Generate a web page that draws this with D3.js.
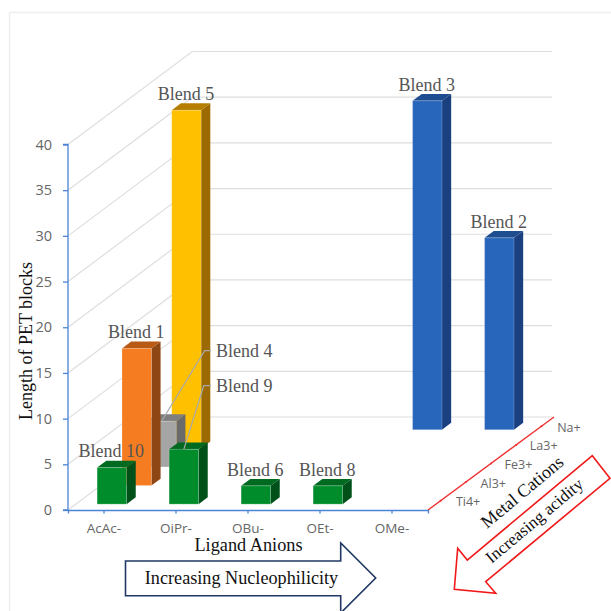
<!DOCTYPE html>
<html>
<head>
<meta charset="utf-8">
<script src="https://cdn.jsdelivr.net/npm/d3@7"></script>
<style>
  html, body { margin: 0; padding: 0; background: #fff; }
  svg { display: block; }
</style>
</head>
<body>
<svg id="chart" width="611" height="611"></svg>
<script>
// Ligand anions run along the front, metal cations run into the depth of the box.
const anions = ["AcAc-", "OiPr-", "OBu-", "OEt-", "OMe-"];
const cations = ["Ti4+", "Al3+", "Fe3+", "La3+", "Na+"];
const valueTicks = [0, 5, 10, 15, 20, 25, 30, 35, 40];

const blendNames = ["Blend 5", "Blend 4", "Blend 1", "Blend 10", "Blend 9", "Blend 6", "Blend 8", "Blend 3", "Blend 2"];
const blendAnions = ["AcAc-", "AcAc-", "AcAc-", "AcAc-", "OiPr-", "OBu-", "OEt-", "OEt-", "OMe-"];
const blendCations = ["La3+", "Fe3+", "Al3+", "Ti4+", "Ti4+", "Ti4+", "Ti4+", "Na+", "Na+"];
const blendLengths = [37, 5, 15, 4, 6, 2, 2, 36, 21];

// Front, top and side shades for each metal cation row.
const rowFront = ["#008C2B", "#F67C21", "#A5A5A5", "#FFC000", "#2866BC"];
const rowTop = ["#006A20", "#B85A16", "#7F7F7F", "#B57E00", "#1F4E90"];
const rowSide = ["#00501A", "#8E4614", "#6A6A6A", "#9C6A00", "#1A4080"];

// Projection of the box: front plane plus an oblique depth vector.
const plot = { left: 68, right: 428, floor: 510, top: 144.5, depthX: 124.3, depthY: -93, axisDepthX: 126, backRight: 552 };
const barWidth = 29.4;
const barDepth = 0.37;

const x = d3.scaleBand().domain(anions).range([plot.left, plot.right]);
const y = d3.scaleLinear().domain([0, 40]).range([plot.floor, plot.top]);
const depth = d3.scaleBand().domain(cations).range([0, 1]);

const svg = d3.select("#chart");
const serif = "'Liberation Serif', serif";
const sans = "'Open Sans', sans-serif";
const gridColor = "#DEDEDE";
const labelColor = "#555555";

// Outer chart frame, open on the right and bottom.
svg.append("path")
  .attr("d", "M9.5,611V12.5H611")
  .attr("fill", "none").attr("stroke", "#EEEEEE").attr("stroke-width", 1.5);

// Side wall and back wall gridlines.
const grid = svg.append("g").attr("fill", "none").attr("stroke", gridColor);
grid.selectAll("path").data(valueTicks).join("path")
  .attr("stroke-width", 1.2)
  .attr("d", v => {
    const p = d3.path();
    p.moveTo(plot.left, y(v));
    p.lineTo(plot.left + plot.depthX, y(v) + plot.depthY);
    p.lineTo(plot.backRight, y(v) + plot.depthY);
    return p.toString();
  });

// Axes.
const yAxis = svg.append("g")
  .attr("transform", `translate(${plot.left},0)`)
  .call(d3.axisLeft(y).tickValues(valueTicks).tickSize(5).tickPadding(11));
const xAxis = svg.append("g")
  .attr("transform", `translate(0,${plot.floor})`)
  .call(d3.axisBottom(x).tickSize(3.5).tickPadding(10));
[yAxis, xAxis].forEach(g => {
  g.selectAll("path, line").attr("stroke", "#4A84D6").attr("stroke-width", 1.3);
  g.selectAll("text").attr("fill", "#666666").attr("font-family", sans);
});
yAxis.select(".domain").attr("d", `M${-5},${y(40)}H0V${y(0)}H${-5}`);
yAxis.selectAll("text").attr("font-size", 14.5);
xAxis.selectAll("text").attr("font-size", 13.5);

// Depth axis for the metal cations.
const depthAxis = svg.append("g").attr("stroke", "#F03030").attr("fill", "none");
depthAxis.append("line")
  .attr("x1", plot.right).attr("y1", plot.floor)
  .attr("x2", plot.right + plot.axisDepthX).attr("y2", plot.floor + plot.depthY)
  .attr("stroke-width", 1.4);
const rowMid = c => depth(c) + depth.bandwidth() / 2;
depthAxis.selectAll("circle").data(cations).join("circle")
  .attr("cx", c => plot.right + plot.axisDepthX * rowMid(c))
  .attr("cy", c => plot.floor + plot.depthY * rowMid(c))
  .attr("r", 1).attr("fill", "#F03030").attr("stroke", "none");
svg.append("g").selectAll("text").data(cations).join("text")
  .attr("x", c => plot.right + plot.axisDepthX * rowMid(c) + 27.5)
  .attr("y", c => plot.floor + plot.depthY * rowMid(c) + 5.5)
  .attr("text-anchor", "middle")
  .attr("font-family", sans).attr("font-size", 12.5).attr("fill", "#666666")
  .text(c => c);

// Blend bars, nearest row painted last.
const blends = blendNames.map((name, i) => {
  const row = cations.indexOf(blendCations[i]);
  const t = rowMid(blendCations[i]);
  const boxDx = plot.depthX * depth.bandwidth() * barDepth;
  const boxDy = plot.depthY * depth.bandwidth() * barDepth;
  const left = x(blendAnions[i]) + x.bandwidth() / 2 + plot.depthX * t - boxDx / 2 - barWidth / 2;
  const shift = plot.depthY * t - boxDy / 2;
  return {
    name, row, value: blendLengths[i], boxDx, boxDy, left,
    right: left + barWidth,
    base: y(0) + shift,
    head: y(blendLengths[i]) + shift
  };
}).sort((a, b) => b.row - a.row);

const poly = pts => pts.map(p => p.join(",")).join(" ");
const bars = svg.append("g").selectAll("g").data(blends).join("g");
bars.append("polygon").attr("fill", d => rowSide[d.row])
  .attr("points", d => poly([[d.right, d.base], [d.right + d.boxDx, d.base + d.boxDy], [d.right + d.boxDx, d.head + d.boxDy], [d.right, d.head]]));
bars.append("polygon").attr("fill", d => rowTop[d.row])
  .attr("points", d => poly([[d.left, d.head], [d.right, d.head], [d.right + d.boxDx, d.head + d.boxDy], [d.left + d.boxDx, d.head + d.boxDy]]));
bars.append("rect").attr("fill", d => rowFront[d.row])
  .attr("stroke", "#fff").attr("stroke-opacity", 0.2).attr("stroke-width", 1)
  .attr("x", d => d.left).attr("y", d => d.head)
  .attr("width", barWidth).attr("height", d => d.base - d.head);

// Blend labels sit over their bars, except the two that need leader lines.
const leaderNames = ["Blend 4", "Blend 9"];
const leaderLabelX = [216, 216];
const leaderLabelY = [357.3, 392.3];
const leaderElbowX = [204.7, 203.7];
const byName = new Map(blends.map(d => [d.name, d]));

svg.append("g").selectAll("text").data(blends.filter(d => !leaderNames.includes(d.name))).join("text")
  .attr("x", d => d.left + barWidth / 2 - 0.5)
  .attr("y", d => d.head + d.boxDy - 3.3)
  .attr("text-anchor", "middle")
  .attr("font-family", serif).attr("font-size", 18).attr("fill", labelColor)
  .text(d => d.name);

const leaders = svg.append("g").selectAll("g").data(leaderNames).join("g");
leaders.append("polyline")
  .attr("fill", "none").attr("stroke", "#A9A9A9").attr("stroke-width", 1.2)
  .attr("points", (n, i) => {
    const b = byName.get(n);
    const elbowY = leaderLabelY[i] - 6.6;
    return poly([[b.left + barWidth / 2, b.head], [leaderElbowX[i], elbowY], [leaderLabelX[i] - 5, elbowY]]);
  });
leaders.append("text")
  .attr("x", (n, i) => leaderLabelX[i]).attr("y", (n, i) => leaderLabelY[i])
  .attr("font-family", serif).attr("font-size", 18).attr("fill", labelColor)
  .text(n => n);

// Axis titles.
svg.append("text")
  .attr("transform", "translate(32,341) rotate(-90)")
  .attr("text-anchor", "middle")
  .attr("font-family", serif).attr("font-size", 18).attr("fill", "#111")
  .text("Length of PET blocks");
svg.append("text")
  .attr("x", 248.5).attr("y", 551)
  .attr("text-anchor", "middle")
  .attr("font-family", serif).attr("font-size", 18.3).attr("fill", "#111")
  .text("Ligand Anions");
svg.append("text")
  .attr("transform", "translate(526,496.5) rotate(-40)")
  .attr("text-anchor", "middle")
  .attr("font-family", serif).attr("font-size", 18).attr("fill", "#111")
  .text("Metal Cations");

// Trend arrows below and beside the plot.
const blueArrow = [[125.5, 561], [340.7, 561], [340.7, 543], [375.7, 578], [340.7, 613], [340.7, 595.7], [125.5, 595.7]];
const redArrow = [[592.3, 455.7], [610, 478.3], [485.7, 581.7], [495.7, 593.3], [454.3, 589.3], [457.7, 548.3], [467.3, 560]];
svg.append("polygon").attr("points", poly(blueArrow))
  .attr("fill", "#fff").attr("stroke", "#1F3864").attr("stroke-width", 1.6);
svg.append("polygon").attr("points", poly(redArrow))
  .attr("fill", "#fff").attr("stroke", "#F01818").attr("stroke-width", 1.6);
svg.append("text")
  .attr("x", 241.5).attr("y", 584)
  .attr("text-anchor", "middle")
  .attr("font-family", serif).attr("font-size", 18.2).attr("fill", "#111")
  .text("Increasing Nucleophilicity");
svg.append("text")
  .attr("transform", "translate(538,525) rotate(-40)")
  .attr("text-anchor", "middle")
  .attr("font-family", serif).attr("font-size", 17).attr("fill", "#111")
  .text("Increasing acidity");
</script>
</body>
</html>
